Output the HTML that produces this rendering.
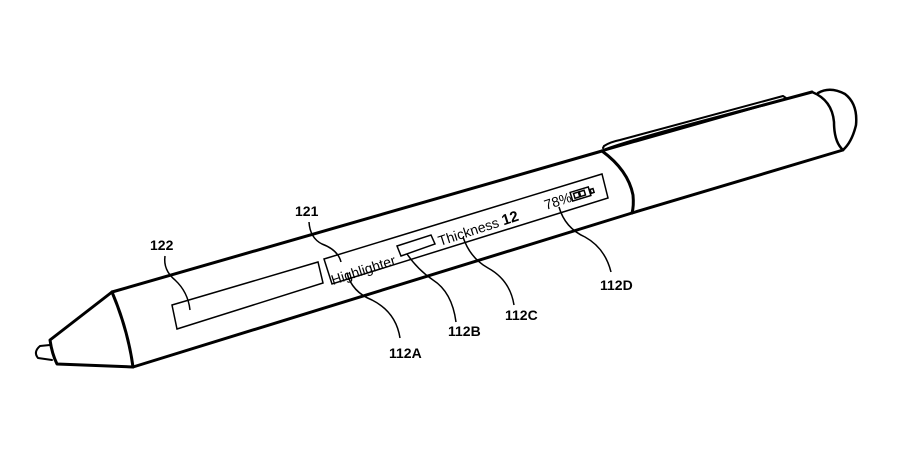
<!DOCTYPE html>
<html><head><style>body{margin:0;background:#fff}svg{display:block}text{font-family:"Liberation Sans",Arial,sans-serif}</style></head>
<body>
<svg width="898" height="455" viewBox="0 0 898 455" xmlns="http://www.w3.org/2000/svg">
<g fill="none" stroke="#000" stroke-width="3" stroke-linejoin="round" stroke-linecap="round">
<path d="M112,292 L602,151"/>
<path d="M133,367 L632,213"/>
<path d="M112,292 Q128,330 133,367"/>
<path d="M112,292 L50,340 Q52,354 57,364 L133,367"/>
<path d="M50,345 L40,346 Q33,352 38,358 L52,360" stroke-width="2"/>
<path d="M602,151 Q625,142 700,122 L812,92"/>
<path d="M632,213 L843,150"/>
<path d="M602,151 Q628,170 633,195 Q634,206 632,213"/>
<path d="M812,92 Q832,100 834,122 Q834,142 843,150" stroke-width="2.5"/>
<path d="M818,93 Q830,86 845,94 Q858,104 856,125 Q852,142 843,150" stroke-width="2.5"/>
<path d="M603,148 L604,146 Q610,142 620,140 L783,96 L786,98" stroke-width="2"/>
<path d="M606,150 L786,99" stroke-width="2"/>
</g>
<g fill="none" stroke="#000" stroke-width="1.5">
<path d="M172,305 L318,262 L323,283 L177,329 Z"/>
<path d="M324,259 L602,174 L608,198 L332,284 Z"/>
<path d="M397,246 L431,235 L435,244 L401,256 Z"/>
<g transform="translate(573,202) rotate(-17)">
<rect x="0" y="-10" width="19" height="9"/>
<rect x="3" y="-8" width="5" height="5"/><rect x="9" y="-8" width="5" height="5"/>
<rect x="20" y="-7" width="3" height="4"/>
</g>
<path d="M309,222 Q310,238 322,244 Q338,250 341,262"/>
<path d="M165,256 Q163,270 175,280 Q188,292 190,310"/>
<path d="M347,273 Q352,292 372,300 Q396,312 400,338"/>
<path d="M407,254 Q418,270 433,280 Q452,292 456,322"/>
<path d="M463,237 Q470,258 488,268 Q510,280 514,305"/>
<path d="M559,207 Q565,228 585,237 Q605,248 611,272"/>
</g>
<g font-size="14" fill="#000">
<text transform="translate(333,285) rotate(-18)">Highlighter</text>
<text transform="translate(440,246) rotate(-18)">Thickness <tspan font-weight="bold" font-size="15">12</tspan></text>
<text transform="translate(546,210) rotate(-18)">78%</text>
</g>
<g font-size="14" font-weight="bold" fill="#000">
<text x="295" y="216">121</text>
<text x="150" y="250">122</text>
<text x="389" y="358">112A</text>
<text x="448" y="336">112B</text>
<text x="505" y="320">112C</text>
<text x="600" y="290">112D</text>
</g>
</svg>
</body></html>
